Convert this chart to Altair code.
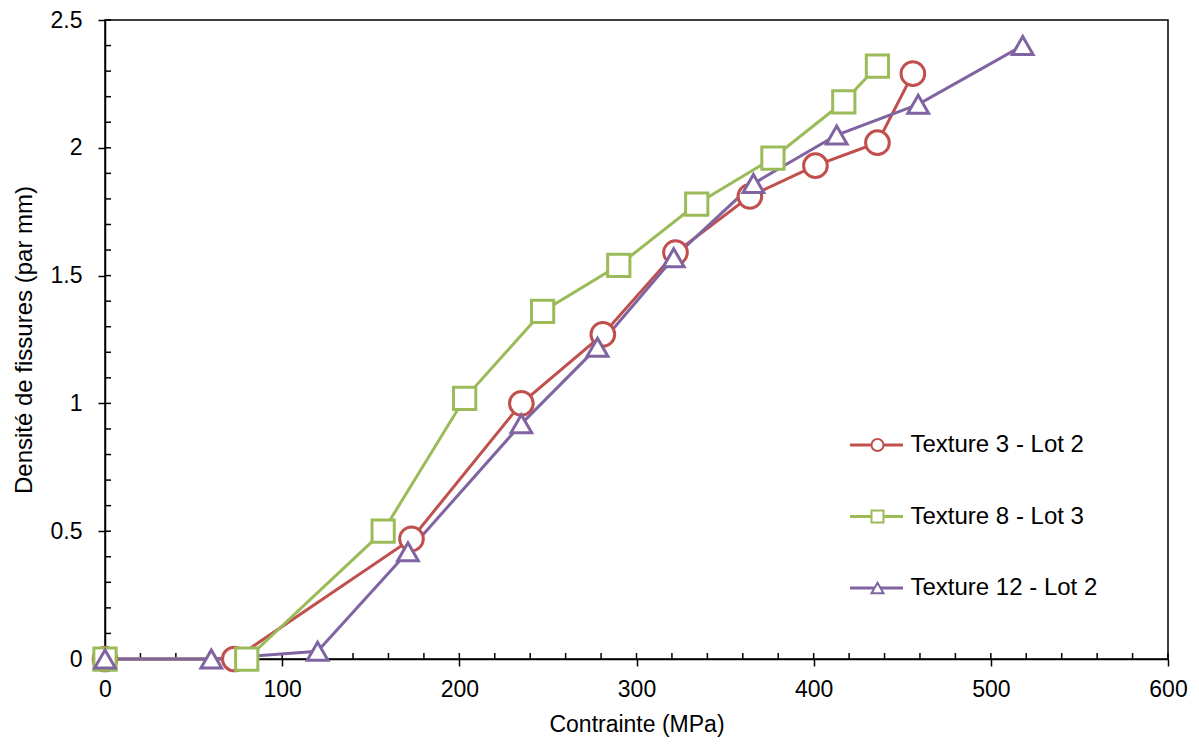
import altair as alt
import pandas as pd

# ---------------- data ----------------
series_names = ["Texture 3 - Lot 2", "Texture 8 - Lot 3", "Texture 12 - Lot 2"]
colors = ["#C0504D", "#9BBB59", "#8064A2"]
shapes = ["circle", "square", "triangle-up"]
marker_sizes = [560, 430, 500]

t3_x = [0, 73, 173, 235, 281, 322, 364, 401, 436, 456]
t3_y = [0, 0, 0.47, 1.00, 1.27, 1.59, 1.81, 1.93, 2.02, 2.29]

t8_x = [0, 80, 157, 203, 247, 290, 334, 377, 417, 436]
t8_y = [0, 0, 0.50, 1.02, 1.36, 1.54, 1.78, 1.96, 2.18, 2.32]

t12_x = [0, 60, 120, 171, 235, 278, 321, 366, 413, 459, 518]
t12_y = [0, 0, 0.03, 0.42, 0.92, 1.22, 1.57, 1.86, 2.05, 2.17, 2.40]

x_ticks = [0, 100, 200, 300, 400, 500, 600]
y_ticks = [0, 0.5, 1, 1.5, 2, 2.5]
x_minor = [0, 20, 40, 60, 80, 100, 120, 140, 160, 180, 200, 220, 240, 260, 280,
           300, 320, 340, 360, 380, 400, 420, 440, 460, 480, 500, 520, 540, 560,
           580, 600]
y_minor = [0, 0.1, 0.2, 0.3, 0.4, 0.5, 0.6, 0.7, 0.8, 0.9, 1.0, 1.1, 1.2, 1.3,
           1.4, 1.5, 1.6, 1.7, 1.8, 1.9, 2.0, 2.1, 2.2, 2.3, 2.4, 2.5]

rows = []
for name, xs, ys in zip(series_names, [t3_x, t8_x, t12_x], [t3_y, t8_y, t12_y]):
    for i, (xv, yv) in enumerate(zip(xs, ys)):
        rows.append({"series": name, "x": xv, "y": yv, "idx": i})
df = pd.DataFrame(rows)

FONT = "Liberation Sans"
TICK_FS = 23
TEXT_FS = 24
W, H = 1063, 639

xscale = alt.Scale(domain=[0, 600], nice=False, zero=False)
yscale = alt.Scale(domain=[0, 2.5], nice=False, zero=False)

xaxis = alt.Axis(values=x_ticks, title="Contrainte (MPa)", labelPadding=12,
                 titlePadding=12, titleFontSize=23, labelFlush=False, labelOverlap=False)
yaxis = alt.Axis(values=y_ticks, title="Densité de fissures (par mm)", format="~g",
                 labelPadding=16, titlePadding=14, labelFlush=False, labelOverlap=False)

x_enc = alt.X("x:Q", scale=xscale, axis=xaxis)
y_enc = alt.Y("y:Q", scale=yscale, axis=yaxis)

# minor / inner ticks
xminor_layer = alt.Chart(pd.DataFrame({"x": x_minor})).mark_rule(
    color="black", strokeWidth=1.5
).encode(x=x_enc, y=alt.value(H), y2=alt.value(H - 6))

yminor_layer = alt.Chart(pd.DataFrame({"y": y_minor})).mark_rule(
    color="black", strokeWidth=1.5
).encode(y=y_enc, x=alt.value(0), x2=alt.value(6))

line_legend = alt.Legend(
    orient="none", legendX=743.5, legendY=397, title=None,
    symbolType="stroke", symbolSize=2809, symbolStrokeWidth=3,
    labelFont=FONT, labelFontSize=TEXT_FS, labelColor="black", labelOffset=6,
    labelLimit=400, rowPadding=31.5, padding=0, symbolOffset=0,
)
marker_legend = alt.Legend(
    orient="none", legendX=760.5, legendY=413, title=None,
    symbolSize=144, symbolStrokeWidth=2, symbolFillColor="white",
    labelFont=FONT, labelFontSize=TEXT_FS, labelExpr="''", labelLimit=400,
    rowPadding=47.5, padding=0, symbolOffset=0,
)

lines = alt.Chart(df).mark_line(strokeWidth=3).encode(
    x=x_enc, y=y_enc,
    color=alt.Color("series:N", scale=alt.Scale(domain=series_names, range=colors),
                    legend=line_legend),
    order="idx:Q",
)

points = alt.Chart(df).mark_point(filled=True, fill="white", strokeWidth=3, opacity=1).encode(
    x=x_enc, y=y_enc,
    stroke=alt.Stroke("series:N", scale=alt.Scale(domain=series_names, range=colors),
                      legend=marker_legend),
    shape=alt.Shape("series:N", scale=alt.Scale(domain=series_names, range=shapes),
                    legend=marker_legend),
    size=alt.Size("series:N", scale=alt.Scale(domain=series_names, range=marker_sizes),
                  legend=None),
)

chart = alt.layer(xminor_layer, yminor_layer, lines, points).resolve_legend(
    color="independent", stroke="independent", shape="independent"
).properties(
    width=W, height=H, autosize="none",
    padding={"left": 97, "top": 12, "right": 22, "bottom": 80},
).configure_view(
    stroke="black", strokeWidth=1.5
).configure_axis(
    labelFont=FONT, labelFontSize=TICK_FS, labelColor="black",
    titleFont=FONT, titleFontSize=TEXT_FS, titleFontWeight="normal", titleColor="black",
    domainColor="black", domainWidth=1.5, tickColor="black", tickWidth=1.5,
    tickSize=7, grid=False,
)

chart.save("out.html", embed_options={"renderer": "svg", "actions": False})
